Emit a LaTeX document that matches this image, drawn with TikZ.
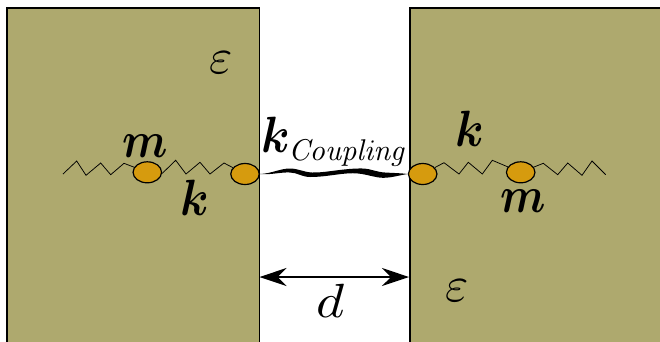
\documentclass[tikz,border=0pt]{standalone}
\usepackage{graphicx}
\usetikzlibrary{arrows.meta,shapes.geometric}
\definecolor{plate}{HTML}{AEA96E}
\definecolor{mass}{HTML}{D69B0E}
\newcommand{\labk}{\scalebox{4.6}[5.1]{\boldmath$k$}}
\newcommand{\labm}{\scalebox{4.4}[5.1]{\boldmath$m$}}
\tikzset{
  wall/.style={draw=black,line width=1.3pt,fill=plate},
  massdot/.style={ellipse,draw=black,line width=1.2pt,fill=mass,minimum width=28.5pt,minimum height=21pt,inner sep=0pt},
  springline/.style={draw=black,line width=0.75pt,line join=miter},
  lab/.style={inner sep=0pt}
  ,gap/.style={draw=black,line width=1.3pt,{Stealth[length=27pt,width=18pt,inset=9pt]}-{Stealth[length=27pt,width=18pt,inset=9pt]}}
}
\begin{document}
\begin{tikzpicture}[x=1pt,y=-1pt]
\useasboundingbox (0,0) rectangle (660,341);
\fill[white] (0,0) rectangle (660,341);
\path[wall] (7,346) -- (7,8) -- (259.5,8) -- (259.5,346);
\path[wall] (665,346) -- (665,8) -- (410,8) -- (410,346);
\coordinate (wl) at (259.5,277);
\coordinate (wr) at (409,277);
\coordinate (el) at (63,174);
\coordinate (er) at (605.7,174.7);
\node[massdot] (a1) at (147.3,172.3) {};
\node[massdot] (a2) at (245,174) {};
\node[massdot] (b1) at (422.7,174) {};
\node[massdot] (b2) at (520.7,172.3) {};
\draw[springline] (el) -- (76.7,161) -- (86,175.3) -- (100.7,163) -- (110.7,174.7) -- (124,163.3) -- (a1);
\draw[springline] (a1) -- (162.3,173.3) -- (175.7,160.3) -- (186,174) -- (200,162.3) -- (210,174) -- (224,163) -- (a2);
\draw[springline] (b1) -- (444,162.7) -- (459,174) -- (468.3,162.3) -- (482.3,174) -- (492.3,160.3) -- (b2);
\draw[springline] (b2) -- (543.3,163.3) -- (557.7,174.7) -- (567.7,163) -- (582,175.3) -- (592,161) -- (er);
\fill[black] (a2.east) .. controls (272,173.5) and (280,168.5) .. (290,168.5)
  .. controls (298,168.5) and (303,172) .. (312,172.5)
  .. controls (325,173) and (345,168) .. (363,168.5)
  .. controls (372,169) and (376,172) .. (385,172.5)
  .. controls (392,173) and (400,173) .. (b1.west)
  .. controls (400,175) and (392,177.8) .. (383,177.8)
  .. controls (374,177.5) and (368,174.5) .. (358,173.5)
  .. controls (345,172) and (328,177) .. (310,177)
  .. controls (302,177) and (297,172.5) .. (290,172.5)
  .. controls (280,172) and (272,175) .. (a2.east) -- cycle;
\draw[gap] (wl) -- (wr);
\node[lab] (kc) at (276,135) {\labk};
\node[lab] (cpl) at (347.5,153) {\scalebox{3}{$\mathit{Coupling}$}};
\node[lab] (ml) at (145,146) {\labm};
\node[lab] (kl) at (195,198) {\labk};
\node[lab] (kr) at (470,129) {\labk};
\node[lab] (mr) at (523,201) {\labm};
\node[lab] (dl) at (331,301) {\scalebox{5.4}[4.8]{$d$}};
\node[lab] (e1) at (221,63) {\scalebox{5}{$\varepsilon$}};
\node[lab] (e2) at (457,291) {\scalebox{5}{$\varepsilon$}};
\end{tikzpicture}
\end{document}
